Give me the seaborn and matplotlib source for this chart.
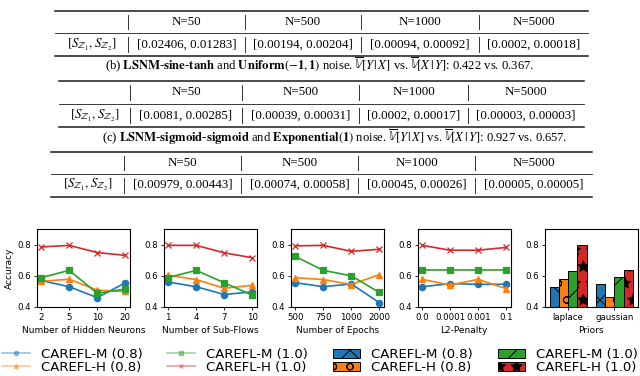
import matplotlib
matplotlib.use("Agg")
import matplotlib.pyplot as plt
import seaborn as sns
import pandas as pd
from matplotlib.lines import Line2D
from matplotlib.patches import Patch

# ---------------- data ----------------
methods = ["CAREFL-M (0.8)", "CAREFL-H (0.8)", "CAREFL-M (1.0)", "CAREFL-H (1.0)"]
colors = ["#1f77b4", "#ff7f0e", "#2ca02c", "#d62728"]
markers = ["o", "^", "s", "x"]
hatches = ["x", "o", "/", "*"]

neurons = ["2", "5", "10", "20"]
neurons_m08 = [0.570, 0.530, 0.460, 0.555]
neurons_h08 = [0.565, 0.578, 0.508, 0.500]
neurons_m10 = [0.588, 0.635, 0.488, 0.515]
neurons_h10 = [0.785, 0.795, 0.749, 0.731]

flows = ["1", "4", "7", "10"]
flows_m08 = [0.560, 0.530, 0.480, 0.497]
flows_h08 = [0.603, 0.576, 0.520, 0.539]
flows_m10 = [0.589, 0.635, 0.555, 0.476]
flows_h10 = [0.795, 0.795, 0.747, 0.716]

epochs = ["500", "750", "1000", "2000"]
epochs_m08 = [0.556, 0.530, 0.548, 0.428]
epochs_h08 = [0.588, 0.576, 0.544, 0.607]
epochs_m10 = [0.724, 0.635, 0.600, 0.493]
epochs_h10 = [0.792, 0.795, 0.757, 0.770]

l2 = ["0.0", "0.0001", "0.001", "0.1"]
l2_m08 = [0.530, 0.550, 0.545, 0.546]
l2_h08 = [0.577, 0.541, 0.577, 0.517]
l2_m10 = [0.636, 0.636, 0.636, 0.636]
l2_h10 = [0.795, 0.764, 0.764, 0.782]

priors = ["laplace", "gaussian"]
priors_m08 = [0.530, 0.548]
priors_h08 = [0.577, 0.464]
priors_m10 = [0.633, 0.591]
priors_h10 = [0.797, 0.639]

xlabels = ["Number of Hidden Neurons", "Number of Sub-Flows", "Number of Epochs",
           "L2-Penalty", "Priors"]

table_cols = ["N=50", "N=500", "N=1000", "N=5000"]
row_label = r"$[S_{\mathbb{Z}_1}, S_{\mathbb{Z}_2}]$"
table1 = ["[0.02406, 0.01283]", "[0.00194, 0.00204]", "[0.00094, 0.00092]", "[0.0002, 0.00018]"]
table2 = ["[0.0081, 0.00285]", "[0.00039, 0.00031]", "[0.0002, 0.00017]", "[0.00003, 0.00003]"]
table3 = ["[0.00979, 0.00443]", "[0.00074, 0.00058]", "[0.00045, 0.00026]", "[0.00005, 0.00005]"]
caption_b = (r"(b) $\mathbf{LSNM}$-$\mathbf{sine}$-$\mathbf{tanh}$ and "
             r"$\mathbf{Uniform}(-\mathbf{1},\mathbf{1})$ noise. "
             r"$\overline{\mathbb{V}}[Y\,|\,X]$ vs. $\overline{\mathbb{V}}[X\,|\,Y]$: 0.422 vs. 0.367.")
caption_c = (r"(c) $\mathbf{LSNM}$-$\mathbf{sigmoid}$-$\mathbf{sigmoid}$ and "
             r"$\mathbf{Exponential}(\mathbf{1})$ noise. "
             r"$\overline{\mathbb{V}}[Y\,|\,X]$ vs. $\overline{\mathbb{V}}[X\,|\,Y]$: 0.927 vs. 0.657.")

# ---------------- style ----------------
plt.rcParams["mathtext.fontset"] = "stix"
plt.rcParams["font.family"] = ["DejaVu Sans"]
plt.rcParams["hatch.color"] = "black"
plt.rcParams["hatch.linewidth"] = 0.7

W, H = 640, 376
fig = plt.figure(figsize=(6.4, 3.76), dpi=100)


def px(x):
    return x / W


def py(y):
    return 1 - y / H


def hline(x0, x1, y, lw):
    fig.add_artist(Line2D([px(x0), px(x1)], [py(y), py(y)], transform=fig.transFigure,
                          color="#1a1a1a", lw=lw))


def draw_table(x0, x1, rules, vlines, header_y, data_y, values):
    hline(x0, x1, rules[0], 1.1)
    hline(x0, x1, rules[1], 0.6)
    hline(x0, x1, rules[2], 1.1)
    for ra, rb in [(rules[0], rules[1]), (rules[1], rules[2])]:
        for vx in vlines:
            fig.add_artist(Line2D([px(vx), px(vx)], [py(ra + 4), py(rb - 4)],
                                  transform=fig.transFigure, color="#333333", lw=0.7))
    edges = [x0] + vlines + [x1]
    centers = [(edges[i] + edges[i + 1]) / 2 for i in range(5)]
    for c, t in zip(centers, [""] + table_cols):
        fig.text(px(c), py(header_y), t, ha="center", va="center", fontsize=9.4,
                 family="Liberation Serif")
    for c, t in zip(centers, [row_label] + values):
        fig.text(px(c), py(data_y), t, ha="center", va="center", fontsize=9.4,
                 family="Liberation Serif")


draw_table(55, 588, [11, 33, 56], [128, 245, 361, 479], 22, 45, table1)
fig.text(px(320), py(65), caption_b, ha="center", va="center", fontsize=9.1,
         family="Liberation Serif")
draw_table(59, 584, [81, 104, 127], [130, 242, 359, 468], 92, 116, table2)
fig.text(px(335), py(137), caption_c, ha="center", va="center", fontsize=9.1,
         family="Liberation Serif")
draw_table(51, 592, [152, 174, 197], [124, 241, 358, 475], 163, 185, table3)

# ---------------- plots ----------------
panels = [
    (neurons, [neurons_m08, neurons_h08, neurons_m10, neurons_h10]),
    (flows, [flows_m08, flows_h08, flows_m10, flows_h10]),
    (epochs, [epochs_m08, epochs_h08, epochs_m10, epochs_h10]),
    (l2, [l2_m08, l2_h08, l2_m10, l2_h10]),
]

axes = [fig.add_axes([px(37 + i * 127), py(307), px(92.5), 78 / H]) for i in range(5)]

for ax, (cats, series) in zip(axes[:4], panels):
    rows = []
    for m, vals in zip(methods, series):
        for c, v in zip(cats, vals):
            rows.append({"x": c, "acc": v, "method": m})
    df = pd.DataFrame(rows)
    sns.pointplot(data=df, x="x", y="acc", hue="method", hue_order=methods,
                  order=cats, palette=colors, markers=markers, linestyles="-",
                  errorbar=None, legend=False, ax=ax, markersize=4.5, linewidth=1.2)
    ax.set_xlim(-0.15, 3.15)

rows = []
for m, vals in zip(methods, [priors_m08, priors_h08, priors_m10, priors_h10]):
    for c, v in zip(priors, vals):
        rows.append({"prior": c, "acc": v, "method": m})
dfb = pd.DataFrame(rows)
sns.barplot(data=dfb, x="prior", y="acc", hue="method", hue_order=methods, order=priors,
            palette=colors, saturation=1, edgecolor="black", linewidth=0.7,
            errorbar=None, legend=False, ax=axes[4])
for i, cont in enumerate(axes[4].containers):
    for p in cont:
        p.set_hatch(hatches[i])

for i, ax in enumerate(axes):
    ax.set_ylim(0.4, 0.9)
    ax.set_yticks([0.4, 0.6, 0.8])
    ax.tick_params(labelsize=6.2, length=2.5, width=0.6, pad=2)
    ax.set_xlabel(xlabels[i], fontsize=6.5, labelpad=2.5)
    ax.set_ylabel("")
    for s in ax.spines.values():
        s.set_linewidth(0.8)
        s.set_color("black")
axes[0].set_ylabel("Accuracy", fontsize=6.5, labelpad=2)

# ---------------- legend ----------------
handles = []
for c, m in zip(colors, markers):
    handles.append(Line2D([], [], color=c, marker=m, markersize=3, lw=1.2, alpha=0.45))
for c, h in zip(colors, hatches):
    handles.append(Patch(facecolor=c, edgecolor="black", hatch=h, lw=0.7))
labels = methods + methods
fig.legend(handles, labels, loc="center", bbox_to_anchor=(0.5, py(361)), ncol=4,
           frameon=False, fontsize=9.5, handlelength=2.1, handletextpad=0.8,
           columnspacing=1.9, labelspacing=0.0, borderpad=0, borderaxespad=0)

fig.savefig("out.png", dpi=100)
